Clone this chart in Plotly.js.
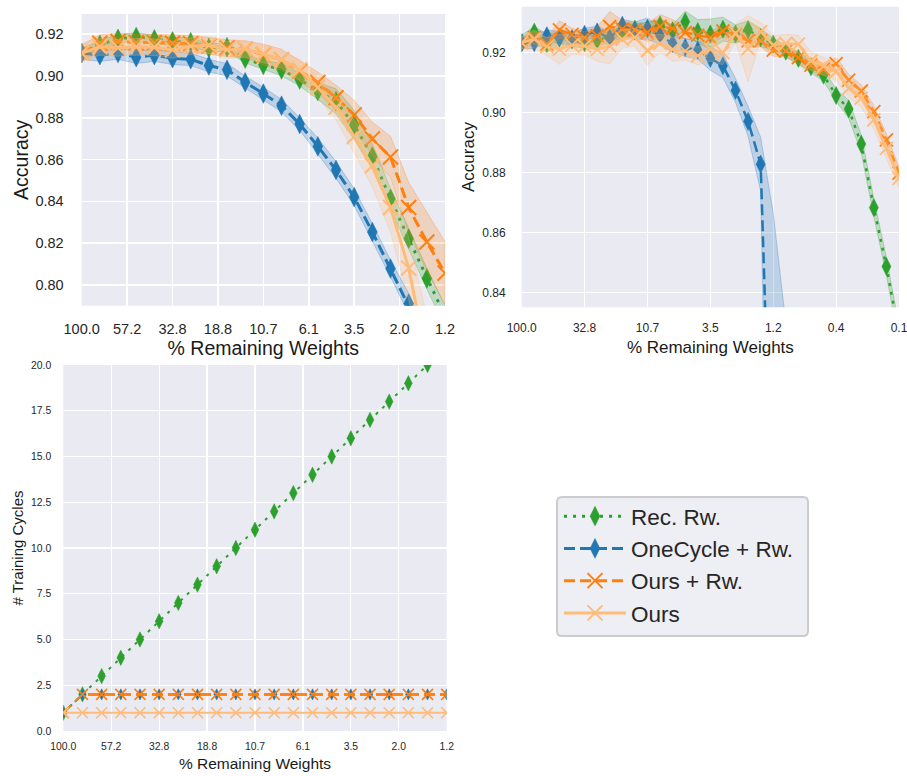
<!DOCTYPE html>
<html><head><meta charset="utf-8">
<script src="https://cdn.plot.ly/plotly-3.0.1.min.js"></script>
<style>html,body{margin:0;padding:0;background:#fff}</style>
</head><body><div id="chart" style="width:907px;height:776px"></div>
<script>
// ---- tick labels (% remaining weights at pruning iterations) ----
const tickVals20 = [0, 2.5, 5, 7.5, 10, 12.5, 15, 17.5, 20];
const tickLabels20 = ['100.0', '57.2', '32.8', '18.8', '10.7', '6.1', '3.5', '2.0', '1.2'];
const tickVals30 = [0, 5, 10, 15, 20, 25, 30];
const tickLabels30 = ['100.0', '32.8', '10.7', '3.5', '1.2', '0.4', '0.1'];

const seriesNames = ['Rec. Rw.', 'OneCycle + Rw.', 'Ours + Rw.', 'Ours'];

// ---- top-left: accuracy, iterations 0..20 ----
const iterA = [0,1,2,3,4,5,6,7,8,9,10,11,12,13,14,15,16,17,18,19,20];
const recRwA = [0.911,0.915,0.9178,0.9187,0.9176,0.9166,0.9162,0.9135,0.9138,0.9083,0.9053,0.9031,0.8983,0.8928,0.8879,0.8766,0.8614,0.8412,0.8221,0.803,0.785];
const recRwStdA = [0.002,0.002,0.002,0.002,0.002,0.002,0.002,0.002,0.002,0.002,0.002,0.003,0.003,0.004,0.006,0.007,0.006,0.005,0.005,0.005,0.005];
const oneCycleA = [0.911,0.910,0.911,0.909,0.910,0.9085,0.908,0.905,0.903,0.897,0.8916,0.8858,0.877,0.8663,0.855,0.842,0.8253,0.8078,0.791,0.772,0.752];
const oneCycleStdA = [0.003,0.003,0.003,0.003,0.003,0.003,0.003,0.003,0.003,0.003,0.003,0.003,0.003,0.004,0.004,0.004,0.004,0.004,0.005,0.005,0.005];
const oursRwA = [0.911,0.9157,0.9165,0.9160,0.9160,0.9157,0.9155,0.9144,0.9134,0.9128,0.9103,0.9078,0.9024,0.8969,0.8896,0.8814,0.8699,0.8612,0.837,0.8205,0.8056];
const oursRwStdA = [0.004,0.004,0.004,0.004,0.004,0.004,0.004,0.004,0.004,0.004,0.005,0.005,0.005,0.005,0.006,0.007,0.008,0.01,0.012,0.014,0.015];
const oursA = [0.911,0.914,0.9135,0.914,0.9138,0.9125,0.9143,0.9148,0.9125,0.913,0.9105,0.9078,0.903,0.8945,0.885,0.871,0.857,0.837,0.808,0.765,0.73];
const oursStdA = [0.004,0.004,0.004,0.004,0.004,0.004,0.004,0.004,0.004,0.004,0.004,0.004,0.005,0.005,0.006,0.008,0.01,0.012,0.015,0.02,0.02];

// ---- top-right: accuracy, iterations 0..30 ----
const iterB = [0,1,2,3,4,5,6,7,8,9,10,11,12,13,14,15,16,17,18,19,20,21,22,23,24,25,26,27,28,29,30];
const iterBlueB = [0,1,2,3,4,5,6,7,8,9,10,11,12,13,14,15,16,17,18,19,20,21,22];
const recRwB = [0.9233,0.9268,0.9231,0.9248,0.9242,0.9233,0.9242,0.925,0.9267,0.9278,0.928,0.9292,0.9273,0.9303,0.927,0.9262,0.9278,0.9262,0.9276,0.925,0.9228,0.9205,0.9181,0.9153,0.9125,0.9057,0.9012,0.8895,0.8683,0.8487,0.826];
const recRwStdB = [0.0025,0.002,0.003,0.002,0.002,0.002,0.002,0.002,0.002,0.002,0.002,0.002,0.002,0.0035,0.004,0.005,0.004,0.003,0.003,0.003,0.002,0.002,0.002,0.002,0.002,0.002,0.003,0.003,0.003,0.003,0.003];
const oneCycleB = [0.9233,0.9233,0.9256,0.925,0.9247,0.9261,0.9269,0.9247,0.9291,0.9272,0.928,0.9256,0.9231,0.9217,0.9208,0.9181,0.9156,0.9074,0.8971,0.8828,0.763,0.62,0.48];
const oneCycleStdB = [0.002,0.002,0.002,0.002,0.002,0.002,0.002,0.002,0.002,0.003,0.0035,0.003,0.003,0.003,0.003,0.004,0.004,0.004,0.005,0.009,0.1035,0.21,0.2];
const oursRwB = [0.9233,0.925,0.9228,0.9276,0.9261,0.925,0.9256,0.9287,0.9278,0.9276,0.9267,0.9287,0.928,0.9267,0.9258,0.925,0.9272,0.9261,0.9239,0.9239,0.9208,0.9205,0.9183,0.9158,0.9145,0.9163,0.9108,0.9072,0.9003,0.8909,0.8798];
const oursRwStdB = [0.002,0.002,0.002,0.003,0.002,0.002,0.003,0.005,0.003,0.002,0.003,0.004,0.003,0.002,0.002,0.002,0.002,0.002,0.002,0.002,0.002,0.002,0.002,0.002,0.002,0.002,0.002,0.002,0.002,0.002,0.002];
const oursB = [0.9233,0.9245,0.922,0.9211,0.9225,0.9222,0.9211,0.9222,0.9245,0.9251,0.9207,0.9231,0.9211,0.9205,0.9189,0.9211,0.92,0.9265,0.9213,0.927,0.9225,0.9231,0.9228,0.9172,0.9155,0.9137,0.9081,0.9048,0.8976,0.8881,0.8781];
const oursStdB = [0.002,0.003,0.003,0.005,0.003,0.003,0.004,0.006,0.003,0.003,0.005,0.003,0.004,0.003,0.003,0.004,0.004,0.003,0.011,0.003,0.003,0.003,0.003,0.003,0.003,0.003,0.003,0.003,0.003,0.003,0.003];

// ---- bottom: number of training cycles, iterations 0..20 ----
const iterC = [0,1,2,3,4,5,6,7,8,9,10,11,12,13,14,15,16,17,18,19,20];
const recRwC = [1,2,3,4,5,6,7,8,9,10,11,12,13,14,15,16,17,18,19,20,21];
const oneCycleC = [1,2,2,2,2,2,2,2,2,2,2,2,2,2,2,2,2,2,2,2,2];
const oursRwC = [1,2,2,2,2,2,2,2,2,2,2,2,2,2,2,2,2,2,2,2,2];
const oursC = [1,1,1,1,1,1,1,1,1,1,1,1,1,1,1,1,1,1,1,1,1];

// ---- styles ----
const COLORS = ['#2ca02c', '#1f77b4', '#ff7f0e', '#ffbb78'];
const RGB = ['44,160,44', '31,119,180', '255,127,14', '255,187,120'];
const DASHES = ['3px,6px', '11px,5px', '11px,5px', 'solid'];
const SYMBOLS = ['diamond-tall', 'diamond-tall', 'x-thin', 'x-thin'];

function band(x, m, s, i, xa, ya) {
  const n = Math.min(x.length, m.length);
  const xs = [], ys = [];
  for (let j = 0; j < n; j++) { xs.push(x[j]); ys.push(m[j] + s[j]); }
  for (let j = n - 1; j >= 0; j--) { xs.push(x[j]); ys.push(m[j] - s[j]); }
  return {
    x: xs, y: ys, xaxis: xa, yaxis: ya, type: 'scatter', mode: 'lines',
    fill: 'toself', fillcolor: 'rgba(' + RGB[i] + ',0.22)',
    line: {width: 1, color: 'rgba(' + RGB[i] + ',0.28)'},
    hoverinfo: 'skip', showlegend: false
  };
}
function line(x, y, i, xa, ya, opt) {
  const isX = SYMBOLS[i] === 'x-thin';
  return {
    x: x, y: y, xaxis: xa, yaxis: ya, type: 'scatter', mode: 'lines+markers',
    name: seriesNames[i], legendgroup: 'g' + i, showlegend: !!opt.legend,
    line: {color: COLORS[i], width: opt.lw, dash: DASHES[i]},
    marker: {
      symbol: SYMBOLS[i], color: COLORS[i],
      size: isX ? opt.xs : (opt.ds[i]),
      line: {color: COLORS[i], width: isX ? opt.xlw : 0.5}
    }
  };
}

const traces = [];
const A = [[recRwA, recRwStdA, iterA], [oneCycleA, oneCycleStdA, iterA], [oursRwA, oursRwStdA, iterA], [oursA, oursStdA, iterA]];
const B = [[recRwB, recRwStdB, iterB], [oneCycleB, oneCycleStdB, iterBlueB], [oursRwB, oursRwStdB, iterB], [oursB, oursStdB, iterB]];
const C = [recRwC, oneCycleC, oursRwC, oursC];
for (let i = 0; i < 4; i++) {
  traces.push(band(A[i][2], A[i][0], A[i][1], i, 'x', 'y'));
  traces.push(line(A[i][2], A[i][0], i, 'x', 'y', {legend: true, lw: 3, xs: 15, xlw: 2, ds: [14, 14]}));
}
for (let i = 0; i < 4; i++) {
  traces.push(band(B[i][2], B[i][0], B[i][1], i, 'x2', 'y2'));
  traces.push(line(B[i][2], B[i][0], i, 'x2', 'y2', {lw: 2.5, xs: 13, xlw: 1.8, ds: [13, 13]}));
}
for (let i = 0; i < 4; i++) {
  traces.push(line(iterC, C[i], i, 'x3', 'y3', {lw: 2, xs: 11, xlw: 1.6, ds: [11, 8]}));
}

const TICKC = '#262626';
const FT = 'Liberation Sans, Arial, sans-serif';
function xax(dom, anchor, rng, tv, tt, fs, tfs, ylab, stand) {
  return {
    domain: dom, anchor: anchor, range: rng, tickvals: tv, ticktext: tt,
    showgrid: true, gridcolor: '#ffffff', gridwidth: fs > 12 ? 1.6 : 1.2,
    zeroline: false, showline: false, ticks: '', ticklabelstandoff: ylab,
    ticklabeloverflow: 'allow',
    tickfont: {family: FT, size: fs, color: TICKC},
    title: {text: '% Remaining Weights', font: {family: FT, size: tfs, color: '#1a1a1a'}, standoff: stand}
  };
}
function yax(dom, anchor, rng, tv, fmt, fs, tfs, lab, stand, txt) {
  return {
    domain: dom, anchor: anchor, range: rng, tickvals: tv, tickformat: fmt,
    showgrid: true, gridcolor: '#ffffff', gridwidth: fs > 12 ? 1.6 : 1.2,
    zeroline: false, showline: false, ticks: '', ticklabelstandoff: lab,
    tickfont: {family: FT, size: fs, color: TICKC},
    title: {text: txt, font: {family: FT, size: tfs, color: '#1a1a1a'}, standoff: stand}
  };
}

const yTicksA = [0.80, 0.82, 0.84, 0.86, 0.88, 0.90, 0.92];
const yTicksB = [0.84, 0.86, 0.88, 0.90, 0.92];
const yTicksC = [0, 2.5, 5, 7.5, 10, 12.5, 15, 17.5, 20];

const x0 = 557/907, x1 = 808/907, yT = 1 - 497/776, yB = 1 - 636/776;
const rx = 5/907, ry = 5/776;
const rr = `M${x0+rx},${yT} L${x1-rx},${yT} Q${x1},${yT} ${x1},${yT-ry} L${x1},${yB+ry} Q${x1},${yB} ${x1-rx},${yB} L${x0+rx},${yB} Q${x0},${yB} ${x0},${yB+ry} L${x0},${yT-ry} Q${x0},${yT} ${x0+rx},${yT} Z`;

const layout = {
  width: 907, height: 776,
  margin: {l: 0, r: 0, t: 0, b: 0},
  paper_bgcolor: '#ffffff',
  plot_bgcolor: '#eaeaf2',
  showlegend: true,
  xaxis: xax([81.7/907, 445/907], 'y', [0, 20], tickVals20, tickLabels20, 14.5, 19.5, 13, 2),
  yaxis: yax([1 - 305.7/776, 1 - 14/776], 'x', [0.790, 0.9297], yTicksA, '.2f', 14.5, 19.5, 17, 1, 'Accuracy'),
  xaxis2: xax([521.7/907, 899/907], 'y2', [0, 30], tickVals30, tickLabels30, 12, 17, 12, 6),
  yaxis2: yax([1 - 307.3/776, 1 - 6.7/776], 'x2', [0.8351, 0.9353], yTicksB, '.2f', 12, 17, 15, 3, 'Accuracy'),
  xaxis3: xax([63.3/907, 446.7/907], 'y3', [0, 20], tickVals20, tickLabels20, 10.4, 15.5, 8, 6),
  yaxis3: yax([1 - 731/776, 1 - 365/776], 'x3', [0, 20], yTicksC, '.1f', 10.4, 15, 11, 3, '# Training Cycles'),
  legend: {
    x: x0 + 2/907, y: yT + 2/776, xanchor: 'left', yanchor: 'top',
    bgcolor: 'rgba(0,0,0,0)', borderwidth: 0,
    font: {family: FT, size: 22.5, color: '#262626'},
    itemwidth: 62, tracegroupgap: 0, itemsizing: 'trace'
  },
  shapes: [{type: 'path', xref: 'paper', yref: 'paper', path: rr,
    fillcolor: '#eeeef5', line: {color: '#cccccc', width: 2}, layer: 'above'}]
};

Plotly.newPlot('chart', traces, layout, {displayModeBar: false, staticPlot: true});
</script>
</body></html>
